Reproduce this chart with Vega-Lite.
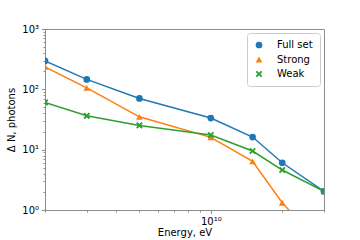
{
  "$schema": "https://vega.github.io/schema/vega-lite/v6.json",
  "width": 279,
  "height": 181,
  "autosize": {"type": "none"},
  "padding": {"left": 45, "top": 29, "right": 36, "bottom": 30},
  "background": "white",
  "data": {
    "values": [
      {"series": "Full set", "energy": 2e9, "count": 296},
      {"series": "Full set", "energy": 3e9, "count": 146},
      {"series": "Full set", "energy": 5e9, "count": 70.7},
      {"series": "Full set", "energy": 1e10, "count": 33.4},
      {"series": "Full set", "energy": 1.5e10, "count": 16.2},
      {"series": "Full set", "energy": 2e10, "count": 6.07},
      {"series": "Full set", "energy": 3e10, "count": 2.04},
      {"series": "Strong", "energy": 2e9, "count": 236},
      {"series": "Strong", "energy": 3e9, "count": 106},
      {"series": "Strong", "energy": 5e9, "count": 35},
      {"series": "Strong", "energy": 1e10, "count": 16},
      {"series": "Strong", "energy": 1.5e10, "count": 6.4},
      {"series": "Strong", "energy": 2e10, "count": 1.32},
      {"series": "Strong", "energy": 3e10, "count": 0.23},
      {"series": "Weak", "energy": 2e9, "count": 60.7},
      {"series": "Weak", "energy": 3e9, "count": 36.4},
      {"series": "Weak", "energy": 5e9, "count": 25.2},
      {"series": "Weak", "energy": 1e10, "count": 17.5},
      {"series": "Weak", "energy": 1.5e10, "count": 9.5},
      {"series": "Weak", "energy": 2e10, "count": 4.6},
      {"series": "Weak", "energy": 3e10, "count": 2.04}
    ]
  },
  "resolve": {"axis": {"x": "independent", "y": "independent"}},
  "layer": [
    {
      "mark": {"type": "line", "strokeWidth": 1.5, "clip": true},
      "encoding": {
        "x": {
          "field": "energy", "type": "quantitative",
          "scale": {"type": "log", "domain": [2e9, 3e10], "nice": false, "zero": false},
          "axis": {"orient": "bottom", "values": [1e10], "labelExpr": "'10¹⁰'", "tickSize": 3.5, "title": "Energy, eV", "titlePadding": 1, "grid": false}
        },
        "y": {
          "field": "count", "type": "quantitative",
          "scale": {"type": "log", "domain": [1, 1000], "nice": false, "zero": false},
          "axis": {"orient": "left", "values": [1, 10, 100, 1000], "labelExpr": "'10' + ['⁰','¹','²','³'][round(log(datum.value)/LN10)]", "tickSize": 3.5, "title": "Δ N, photons", "titlePadding": 5, "grid": false}
        },
        "color": {
          "field": "series", "type": "nominal",
          "scale": {"domain": ["Full set", "Strong", "Weak"], "range": ["#1f77b4", "#ff7f0e", "#2ca02c"]}
        }
      }
    },
    {
      "mark": {"type": "point", "filled": true, "size": 45, "opacity": 1, "clip": true},
      "encoding": {
        "x": {
          "field": "energy", "type": "quantitative",
          "axis": {"orient": "bottom", "values": [2e9, 3e9, 4e9, 5e9, 6e9, 7e9, 8e9, 9e9, 2e10, 3e10], "labels": false, "tickSize": 2, "title": null, "domain": false, "grid": false}
        },
        "y": {
          "field": "count", "type": "quantitative",
          "axis": {"orient": "left", "values": [2, 3, 4, 5, 6, 7, 8, 9, 20, 30, 40, 50, 60, 70, 80, 90, 200, 300, 400, 500, 600, 700, 800, 900], "labels": false, "tickSize": 2, "title": null, "domain": false, "grid": false}
        },
        "color": {
          "field": "series", "type": "nominal",
          "legend": {
            "title": null, "orient": "none", "legendX": 202, "legendY": 4,
            "padding": 7, "fillColor": "white", "strokeColor": "#cccccc", "cornerRadius": 3,
            "labelFont": "DejaVu Sans", "labelFontSize": 10, "labelColor": "#000000", "labelOffset": 13,
            "symbolSize": 45, "rowPadding": 4.5, "symbolStrokeWidth": 0
          }
        },
        "shape": {
          "field": "series", "type": "nominal",
          "scale": {"domain": ["Full set", "Strong", "Weak"], "range": ["circle", "triangle-up", "M0,-0.4L0.6,-1L1,-0.6L0.4,0L1,0.6L0.6,1L0,0.4L-0.6,1L-1,0.6L-0.4,0L-1,-0.6L-0.6,-1Z"]}
        }
      }
    }
  ],
  "config": {
    "view": {"stroke": "#8c8c8c", "strokeWidth": 1},
    "axis": {
      "domainColor": "#8c8c8c", "tickColor": "#8c8c8c",
      "labelFont": "DejaVu Sans", "labelFontSize": 10, "labelColor": "#000000",
      "titleFont": "DejaVu Sans", "titleFontSize": 10, "titleFontWeight": "normal", "titleColor": "#000000",
      "labelPadding": 3
    }
  }
}
